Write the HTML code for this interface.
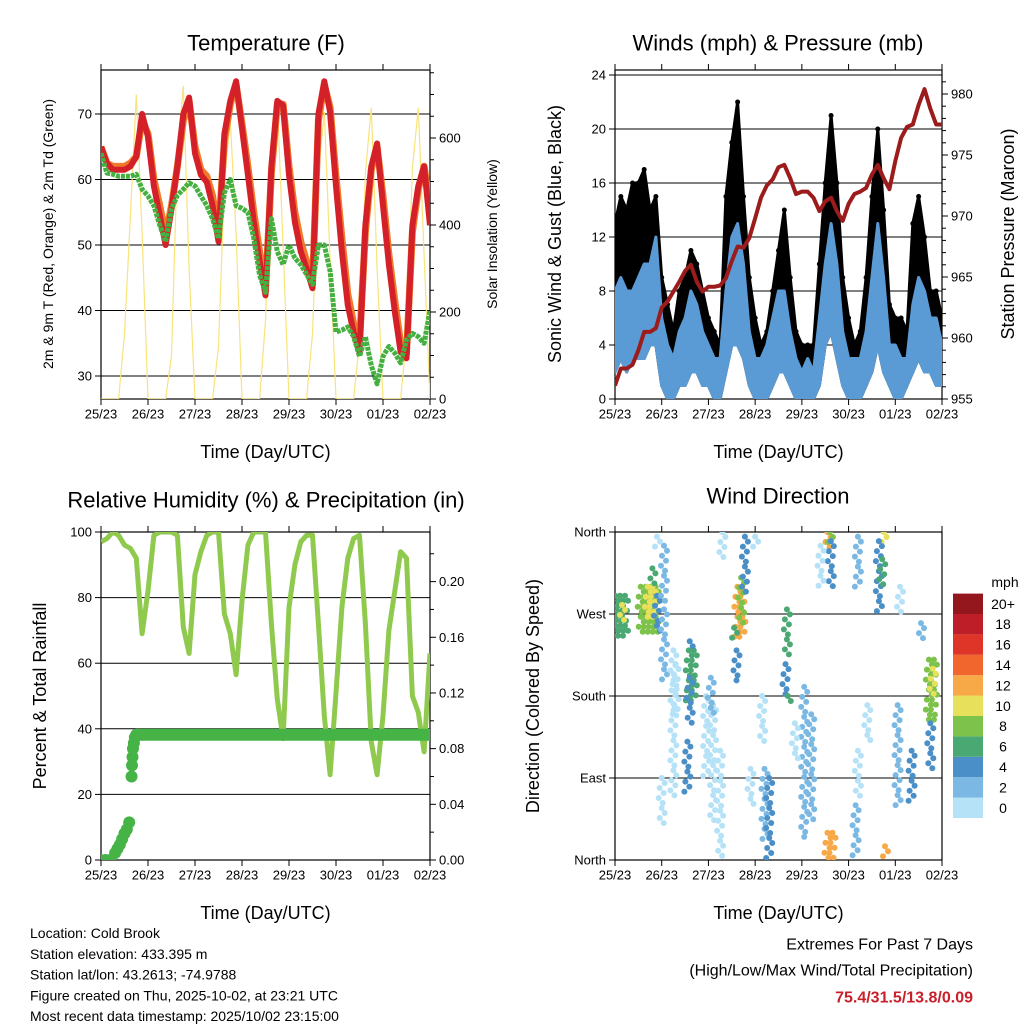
<!DOCTYPE html>
<html><head><meta charset="utf-8">
<style>
html,body{margin:0;padding:0;background:#fff;}
svg{display:block;font-family:"Liberation Sans",sans-serif;}
</style></head>
<body>
<svg id="chart" width="1024" height="1024" viewBox="0 0 1024 1024" xmlns="http://www.w3.org/2000/svg">
<defs>
<clipPath id="c1"><rect x="101" y="70" width="329" height="329"/></clipPath>
<clipPath id="c2"><rect x="615" y="70" width="327" height="329"/></clipPath>
<clipPath id="c3"><rect x="101" y="532" width="329" height="328"/></clipPath>
<clipPath id="c4"><rect x="615" y="532" width="327" height="328"/></clipPath>
</defs>
</svg>
<script>
// ---- data (3-hourly samples, days since 25/23) ----
const dayLabels=['25/23','26/23','27/23','28/23','29/23','30/23','01/23','02/23'];
const temp2m=[65,62.5,61.5,61.5,61.5,62,63.5,70,66.5,59,54.5,50,55.5,62,70,72.5,64,60.7,59.6,56,50.5,67,72,75,67.8,60.7,53.5,47.5,42.3,62,72,71.3,60.7,53.5,49,46.4,43.4,70,75,70.3,59,49,40.8,36.7,33.7,53,62,65.5,56,47,39.8,33.7,32.7,53,59,62,53];
const temp9m=[65,62.5,62,62,62,62.5,63.5,69,67,60,56,51.5,56,62,69,72,65,61.5,60.5,57.5,51.5,66,71.5,74.5,68.5,62,55,49,43,61,71.5,71.5,62,55,50.5,47.5,44,69,74.5,71,60.5,51,42.5,38,35,52,61.5,65,57.5,48.5,41.5,35,33.5,52,58.5,62,56];
const dew2m=[64,61,60.8,60.5,60.5,60.5,60.8,58.5,57.5,56,53,50.5,55.5,57.6,58.5,59.5,59,57.5,56,54,51,58,60,56,55.6,55,51,45.4,42.8,54,49,47,50,48,47,45.5,44,50,50,46,36.7,37,37.5,36,33,36,31.6,28.8,33,34.5,33.5,32,35.5,36.5,36,35,40];
const solar=[0,0,0,0,150,420,700,380,0,0,0,0,100,560,720,300,0,0,0,0,120,500,640,380,0,0,0,0,180,560,690,350,0,0,0,0,150,520,660,320,0,0,0,0,130,520,670,300,0,0,0,0,140,530,670,330,0];
const windLo=[2,3,2,3,3,3,4,4,1,0,0,1,1,2,2,1,1,0,0,2,4,4,3,1,0,0,0,1,2,2,1,0,0,0,0,1,4,5,3,1,0,0,0,1,2,4,2,1,0,0,1,2,3,2,2,1,1];
const windHi=[8,9,8,8,9,10,10,12,6,4,3,5,6,8,7,5,4,3,3,8,12,13,10,5,3,3,4,6,8,8,5,3,2,3,2,6,10,13,10,5,3,3,3,5,9,13,9,4,4,3,3,7,9,8,6,6,4];
const gustHi=[13,15,14,16,16,17,14,15,9,7,5,8,9,11,10,8,6,5,4,15,19,22,15,9,6,4,5,8,11,14,9,5,4,4,4,10,16,21,16,9,6,4,5,9,15,20,14,7,6,6,5,13,15,12,8,8,6];
const pressure=[956.1,957.5,957.5,957.8,959,960.5,960.5,960.8,962.5,963,963.8,964.6,965.5,966,964.6,963.8,964.2,964.2,964.3,964.9,966.3,967.5,967.4,968.2,969.8,971.5,972.5,973,974,974.2,973.1,971.8,972,972,971.5,970.4,971.2,971.5,970.4,969.6,971,971.8,972,972.3,973.4,974.2,973.1,972.2,974.5,976.4,977.3,977.5,979.1,980.4,978.8,977.5,977.5];
const rh=[97,98,100,99,96,95,92,69,82,99,100,100,100,99,71,63,87,94,99,100,100,75,69,56.5,79,96,100,100,100,72,49,37,77,90,97,99,99,72,44,26,51,77,92,98,99,72,36,26,44,70,82,94,92,50,45,33,63];
const precipTime=[0,0.1,0.2,0.3,0.35,0.4,0.45,0.5,0.55,0.6,0.65,0.66,0.67,0.68,0.7,0.72,0.75];
const precipVal=[0,0,0,0.005,0.008,0.011,0.015,0.019,0.022,0.027,0.06,0.068,0.074,0.08,0.084,0.088,0.09];
const precipTotal=0.09;
// wind-direction streaks: start day, width(days), dir low, dir high (deg), speed (mph)
const stDay=[0.0,0.15,0.55,0.7,0.8,0.9,1.05,1.05,1.25,1.3,1.58,1.6,1.55,1.6,1.95,2.1,2.05,2.25,2.62,2.7,2.55,2.78,2.6,3.2,3.3,3.15,3.68,3.65,3.7,4.05,4.2,4.55,4.55,4.6,4.62,5.15,5.2,5.2,5.75,5.78,5.65,5.72,6.05,6.35,6.72,6.75,6.8,0.9,2.3,3.0,6.1,4.4,1.0,2.9,3.85,5.4,6.55];
const stWidth=[0.3,0.1,0.4,0.15,0.05,0.03,0.08,0.05,0.05,0.05,0.12,0.1,0.1,0.03,0.1,0.08,0.05,0.05,0.15,0.08,0.05,0.05,0.03,0.1,0.05,0.05,0.1,0.08,0.03,0.08,0.06,0.12,0.1,0.05,0.03,0.1,0.05,0.08,0.08,0.08,0.05,0.04,0.1,0.08,0.12,0.05,0.05,0.02,0.05,0.05,0.05,0.05,0.03,0.04,0.05,0.05,0.04];
const stLo=[244,262,250,265,300,250,280,195,70,160,170,150,75,230,90,40,160,0,245,260,240,290,195,20,0,130,225,180,170,20,40,0,340,345,300,0,300,70,345,0,270,300,60,60,150,100,180,340,330,340,270,300,40,60,110,130,240];
const stHi=[290,280,300,300,320,290,345,275,230,215,230,200,130,240,180,170,200,120,300,310,255,355,230,100,90,180,275,215,180,190,160,30,360,360,350,60,355,120,360,15,350,330,170,120,220,150,210,355,360,355,300,345,90,100,150,170,260];
const stSpeed=[7,10,9,11,6,4,2,3,1,1,6,4,4,4,1,1,2,1,12,9,7,4,4,3,4,1,6,4,6,2,3,12,12,8,4,3,2,1,11,13,4,6,3,4,8,5,10,1,1,1,1,1,1,1,1,1,2];
const speedBins=['0','2','4','6','8','10','12','14','16','18','20+'];
const speedColors=['#b5e2f6','#7bb9e4','#4a8fc7','#4aa872','#7cc24b','#e6e05a','#f6a946','#f1662d','#df3528','#bd1e27','#95171e'];

// ---- helpers ----
const NS='http://www.w3.org/2000/svg';
const svg=document.getElementById('chart');
function mk(tag,attrs,parent){const e=document.createElementNS(NS,tag);for(const k in attrs)e.setAttribute(k,attrs[k]);(parent||svg).appendChild(e);return e;}
function txt(x,y,s,size,anchor,rot,parent){const e=mk('text',{x:x,y:y,'font-size':size,'text-anchor':anchor||'middle','dominant-baseline':'central',fill:'#000'},parent);if(rot)e.setAttribute('transform','rotate('+rot+' '+x+' '+y+')');e.textContent=s;return e;}
function g(name,clip){const e=mk('g',clip?{'clip-path':'url(#'+clip+')'}:{});

return e;}
function xs(P,d){return P.x0+d*(P.x1-P.x0)/7;}
const P1={x0:101,x1:430,y0:70,y1:399}, P2={x0:615,x1:942,y0:70,y1:399}, P3={x0:101,x1:430,y0:532,y1:860}, P4={x0:615,x1:942,y0:532,y1:860};
const yT=v=>376-(v-30)*6.55, yS=v=>399-v*0.435;
const yW=v=>399-v*13.5, yP=v=>399-(v-955)*12.2;
const yRH=v=>860-v*3.28, yPr=v=>860-v*1392;
const yDir=v=>860-v*328/360;
const T=i=>i*0.125;

function frame(P,name,tag){
  const f=g(name);
  mk('rect',{x:P.x0,y:P.y0,width:P.x1-P.x0,height:P.y1-P.y0,fill:'none',stroke:'#000','stroke-width':1.2},f);
  dayLabels.forEach((l,i)=>{const x=xs(P,i);
    mk('line',{x1:x,x2:x,y1:P.y1,y2:P.y1+6,stroke:'#000'},f);
    mk('line',{x1:x,x2:x,y1:P.y0,y2:P.y0-6,stroke:'#000'},f);
    const t=txt(x,P.y1+15,l,13,'middle',0,f);
    
    
  });
  const xt=txt((P.x0+P.x1)/2,P.y1+53,'Time (Day/UTC)',18,'middle',0,f);
  
  
  return f;
}
function gridL(P,f,vals,yf,labels,side,tag){
  vals.forEach((v,i)=>{const y=yf(v);
    if(side==='L'){mk('line',{x1:P.x0,x2:P.x1,y1:y,y2:y,stroke:'#000','stroke-width':1},f);
      mk('line',{x1:P.x0-6,x2:P.x0,y1:y,y2:y,stroke:'#000'},f);
      const t=txt(P.x0-9,y,labels[i],13,'end',0,f);
      
      }
    else {mk('line',{x1:P.x1,x2:P.x1+6,y1:y,y2:y,stroke:'#000'},f);
      const t=txt(P.x1+9,y,labels[i],13,'start',0,f);
      
      }
  });
}
function path(arr,xf,yf){return arr.map((v,i)=>(i?'L':'M')+xf(i).toFixed(1)+' '+yf(v).toFixed(1)).join(' ');}

// ---- Panel 1: Temperature ----
const f1=frame(P1,'temperature-panel','temp');
gridL(P1,f1,[30,40,50,60,70],yT,['30','40','50','60','70'],'L','temp');
gridL(P1,f1,[0,200,400,600],yS,['0','200','400','600'],'R','solar');
for(let v=50;v<=750;v+=50){if(v%200){const y=yS(v);mk('line',{x1:P1.x1,x2:P1.x1+4,y1:y,y2:y,stroke:'#000'},f1);}}
const t1=txt(266,43,'Temperature (F)',22,'middle',0,f1);


const a1=txt(48,234,'2m & 9m T (Red, Orange) & 2m Td (Green)',14,'middle',-90,f1);


const a1r=txt(492,234,'Solar Insolation (Yellow)',14,'middle',-90,f1);


const s1=g('temperature-series','c1');
const ps=mk('path',{d:path(solar,i=>xs(P1,T(i)),yS),fill:'none',stroke:'#f9e37a','stroke-width':1.2},s1);


const po=mk('path',{d:path(temp9m,i=>xs(P1,T(i)),yT),fill:'none',stroke:'#f07a2a','stroke-width':7,'stroke-linejoin':'round'},s1);


const pr=mk('path',{d:path(temp2m,i=>xs(P1,T(i)),yT),fill:'none',stroke:'#d42028','stroke-width':6,'stroke-linejoin':'round'},s1);


const pg=mk('path',{d:path(dew2m,i=>xs(P1,T(i)),yT),fill:'none',stroke:'#45b040','stroke-width':5,'stroke-dasharray':'4 1','stroke-linejoin':'round'},s1);



// ---- Panel 2: Winds & Pressure ----
const f2=frame(P2,'winds-panel','wind');
gridL(P2,f2,[0,4,8,12,16,20,24],yW,['0','4','8','12','16','20','24'],'L','wind');
gridL(P2,f2,[955,960,965,970,975,980],yP,['955','960','965','970','975','980'],'R','pres');
for(let v=956;v<=981;v++){if(v%5){const y=yP(v);mk('line',{x1:P2.x1,x2:P2.x1+4,y1:y,y2:y,stroke:'#000'},f2);}}
const t2=txt(778,43,'Winds (mph) & Pressure (mb)',22,'middle',0,f2);


const a2=txt(555,234,'Sonic Wind & Gust (Blue, Black)',18,'middle',-90,f2);


const a2r=txt(1008,234,'Station Pressure (Maroon)',18,'middle',-90,f2);


const s2=g('wind-series','c2');
function band(lo,hi,P,yf){let d='';lo.forEach((v,i)=>{d+=(i?'L':'M')+xs(P,T(i)).toFixed(1)+' '+yf(hi[i]).toFixed(1)+' ';});
 for(let i=lo.length-1;i>=0;i--)d+='L'+xs(P,T(i)).toFixed(1)+' '+yf(lo[i]).toFixed(1)+' ';return d+'Z';}
const gb=mk('path',{d:band(windLo,gustHi,P2,yW),fill:'#000',stroke:'#000','stroke-width':3,'stroke-linejoin':'round'},s2);


gustHi.forEach((v,i)=>{const c=mk('circle',{cx:xs(P2,T(i)),cy:yW(v),r:2.5,fill:'#000'},s2);

});
const wb=mk('path',{d:band(windLo,windHi,P2,yW),fill:'#5a9bd5',stroke:'#5a9bd5','stroke-width':3,'stroke-linejoin':'round'},s2);


const pp=mk('path',{d:path(pressure,i=>xs(P2,T(i)),yP),fill:'none',stroke:'#9c1c1c','stroke-width':4,'stroke-linejoin':'round'},s2);



// ---- Panel 3: RH & Precip ----
const f3=frame(P3,'humidity-panel','rh');
gridL(P3,f3,[0,20,40,60,80,100],yRH,['0','20','40','60','80','100'],'L','rh');
gridL(P3,f3,[0,0.04,0.08,0.12,0.16,0.20],yPr,['0.00','0.04','0.08','0.12','0.16','0.20'],'R','precip');
for(let v=0.02;v<0.24;v+=0.04){const y=yPr(v);mk('line',{x1:P3.x1,x2:P3.x1+4,y1:y,y2:y,stroke:'#000'},f3);}
const t3=txt(266,500,'Relative Humidity (%) & Precipitation (in)',22,'middle',0,f3);


const a3=txt(40,696,'Percent & Total Rainfall',18,'middle',-90,f3);


const s3=g('humidity-series','c3');
const prh=mk('path',{d:path(rh,i=>xs(P3,T(i)),yRH),fill:'none',stroke:'#8fca4f','stroke-width':5,'stroke-linejoin':'round'},s3);


const ptot=mk('line',{x1:xs(P3,precipTime[precipTime.length-1]),x2:P3.x1,y1:yPr(precipTotal),y2:yPr(precipTotal),stroke:'#46b347','stroke-width':12},s3);


precipTime.forEach((t,i)=>{const c=mk('circle',{cx:xs(P3,t),cy:yPr(precipVal[i]),r:6,fill:'#46b347'},s3);

});

// ---- Panel 4: Wind direction ----
const f4=frame(P4,'wind-direction-panel','dir');
gridL(P4,f4,[0,90,180,270,360],yDir,['North','East','South','West','North'],'L','dir');
const t4=txt(778,496,'Wind Direction',22,'middle',0,f4);


const a4=txt(533,696,'Direction (Colored By Speed)',18,'middle',-90,f4);


const s4=g('wind-direction-points','c4');
function binOf(s){return Math.min(10,Math.floor(s/2));}
stDay.forEach((d,i)=>{
  const xa=xs(P4,d), xb=xs(P4,d+stWidth[i]);
  const ya=yDir(stHi[i]), yb=yDir(stLo[i]);
  const col=speedColors[binOf(stSpeed[i])];
  let row=0;
  for(let y=ya;y<=yb+0.1;y+=5){
    const off=[0,3,-2,2,-3,1][row%6];
    for(let x=xa;x<=Math.max(xa,xb)+0.1;x+=5){
      const c=mk('circle',{cx:(x+off).toFixed(1),cy:y.toFixed(1),r:3,fill:col},s4);
      
      
    }
    row++;
  }
});
// colorbar
const cb=g('speed-colorbar');
const cbt=txt(1005,582,'mph',14,'middle',0,cb);


speedBins.forEach((l,i)=>{const y=818-(i+1)*20.4;
  const r=mk('rect',{x:953,y:y,width:30,height:20.4,fill:speedColors[i]},cb);
  
  
  const t=txt(1003,y+10.2,l,14,'middle',0,cb);
  
  
});

// ---- footer text ----
const info=['Location: Cold Brook','Station elevation: 433.395 m','Station lat/lon: 43.2613; -74.9788','Figure created on Thu, 2025-10-02, at 23:21 UTC','Most recent data timestamp: 2025/10/02 23:15:00'];
const ft=g('station-info');
info.forEach((s,i)=>{const t=txt(30,933+i*20.8,s,14,'start',0,ft);

});
const ex=g('extremes-info');
const e1=txt(973,945,'Extremes For Past 7 Days',16,'end',0,ex);


const e2=txt(973,971,'(High/Low/Max Wind/Total Precipitation)',16,'end',0,ex);


const e3=txt(973,998,'75.4/31.5/13.8/0.09',16,'end',0,ex);
e3.setAttribute('font-weight','bold');
e3.setAttribute('fill','#c8202a');


</script>
</body></html>
